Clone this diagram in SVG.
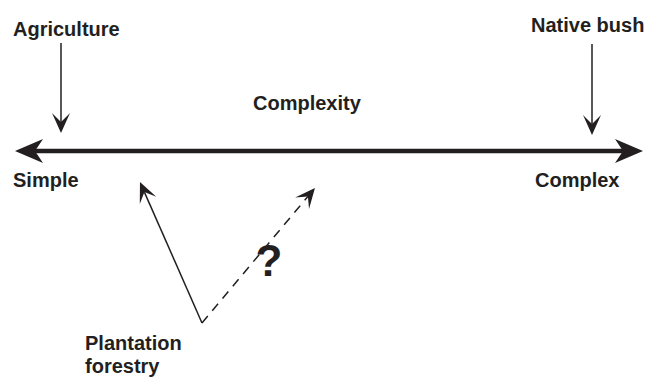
<svg xmlns="http://www.w3.org/2000/svg" width="649" height="379" viewBox="0 0 649 379">
<style>
.lbl{font-family:"Liberation Sans",Arial,sans-serif;font-weight:bold;font-size:20px;fill:#231f20}
.thin{stroke:#231f20;stroke-width:1.5;fill:none}
.axis{stroke:#231f20;stroke-width:4.5;fill:none}
</style>
<defs>
<marker id="bigHead" markerUnits="userSpaceOnUse" orient="auto-start-reverse" overflow="visible" markerWidth="1" markerHeight="1" refX="0" refY="0">
<path d="M20,0 L-8,-12 L0,0 L-8,12 Z" fill="#231f20"/>
</marker>
<marker id="thinHead" markerUnits="userSpaceOnUse" orient="auto" overflow="visible" markerWidth="1" markerHeight="1" refX="0" refY="0">
<path d="M11,0 L-9,-9 L0,0 L-9,9 Z" fill="#231f20"/>
</marker>
</defs>
<rect width="649" height="379" fill="#ffffff"/>
<g id="connectors">
<line class="axis" x1="35" y1="151" x2="623" y2="151" marker-start="url(#bigHead)" marker-end="url(#bigHead)"/>
<line class="thin" x1="61" y1="43" x2="61" y2="122" marker-end="url(#thinHead)"/>
<line class="thin" x1="592" y1="44" x2="592" y2="124" marker-end="url(#thinHead)"/>
<line class="thin" x1="202" y1="323" x2="144.4" y2="192.1" marker-end="url(#thinHead)"/>
<line class="thin" x1="202" y1="323" x2="307.9" y2="196.4" stroke-dasharray="9,7" marker-end="url(#thinHead)"/>
</g>
<g id="agriculture"><text class="lbl" x="13" y="36">Agriculture</text></g>
<g id="native-bush"><text class="lbl" x="531" y="32">Native bush</text></g>
<g id="complexity"><text class="lbl" x="253" y="110">Complexity</text></g>
<g id="simple"><text class="lbl" x="13" y="187">Simple</text></g>
<g id="complex"><text class="lbl" x="535" y="187">Complex</text></g>
<g id="plantation-forestry"><text class="lbl" x="85" y="350">Plantation</text><text class="lbl" x="85" y="373">forestry</text></g>
<g id="question"><text class="lbl" x="269" y="276" text-anchor="middle" style="font-size:44px">?</text></g>
</svg>
